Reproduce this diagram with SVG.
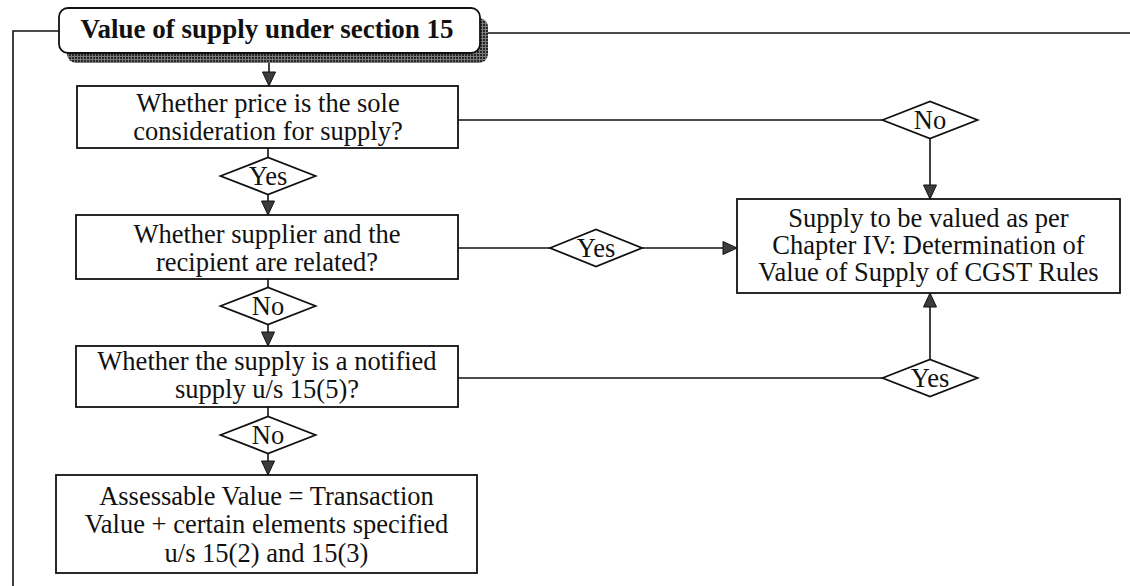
<svg xmlns="http://www.w3.org/2000/svg" width="1130" height="586" viewBox="0 0 1130 586">
  <defs>
    <style>
      .box { fill: #ffffff; stroke: #111111; stroke-width: 1.8; }
      .dia { fill: #ffffff; stroke: #111111; stroke-width: 1.8; }
      .ln { fill: none; stroke: #111111; stroke-width: 1.6; }
      .arr { fill: none; stroke: #111111; stroke-width: 1.6; marker-end: url(#head); }
      .t { font-family: "Liberation Serif", "Times New Roman", serif; font-size: 26.5px; fill: #111111; text-anchor: middle; }
      .tb { font-family: "Liberation Serif", "Times New Roman", serif; font-size: 27px; font-weight: bold; fill: #111111; text-anchor: middle; }
    </style>
    <!-- halftone-like shading for the title shadow -->
    <pattern id="dots" width="3" height="3" patternUnits="userSpaceOnUse">
      <rect width="3" height="3" fill="#7a7a7a"/>
      <rect width="2" height="2" fill="#262626"/>
    </pattern>
    <marker id="head" markerUnits="userSpaceOnUse" markerWidth="18" markerHeight="18" refX="15" refY="7.5" orient="auto">
      <path d="M1,1 L15,7.5 L1,14 Z" fill="#3c3c3c" stroke="#111111" stroke-width="1"/>
    </marker>
  </defs>

  <!-- connectors -->
  <g id="connectors">
    <!-- outer frame lines leaving the title -->
    <polyline class="ln" points="59,31 13,31 13,586"/>
    <line class="ln" x1="488" y1="33" x2="1130" y2="33"/>
    <!-- main vertical flow -->
    <line class="arr" x1="269" y1="63" x2="269" y2="86"/>
    <line class="ln" x1="268" y1="148" x2="268" y2="157.5"/>
    <line class="arr" x1="268" y1="194.5" x2="268" y2="215"/>
    <line class="ln" x1="268" y1="279" x2="268" y2="287.5"/>
    <line class="arr" x1="268" y1="324.5" x2="268" y2="346"/>
    <line class="ln" x1="268" y1="407" x2="268" y2="416.5"/>
    <line class="arr" x1="268" y1="453.5" x2="268" y2="475"/>
    <!-- branches to the rules box -->
    <line class="ln" x1="458" y1="120" x2="882.5" y2="120"/>
    <line class="arr" x1="930" y1="138.5" x2="930" y2="199"/>
    <line class="ln" x1="458" y1="248" x2="550" y2="248"/>
    <line class="arr" x1="642" y1="248" x2="737" y2="248"/>
    <line class="ln" x1="458" y1="378" x2="882.5" y2="378"/>
    <line class="arr" x1="930" y1="359.5" x2="930" y2="293"/>
  </g>

  <!-- title -->
  <g id="title">
    <rect x="67" y="18" width="421" height="45" rx="9" fill="url(#dots)"/>
    <rect x="59" y="8" width="421" height="45" rx="9" class="box"/>
    <text class="tb" x="267" y="38">Value of supply under section 15</text>
  </g>

  <g id="q-price">
    <rect class="box" x="77" y="86" width="381" height="62"/>
    <text class="t" x="268" y="112">Whether price is the sole</text>
    <text class="t" x="268" y="140">consideration for supply?</text>
  </g>

  <g id="d-yes-1">
    <polygon class="dia" points="220.5,176 268,157.5 315.5,176 268,194.5"/>
    <text class="t" x="268" y="185">Yes</text>
  </g>

  <g id="q-related">
    <rect class="box" x="76" y="215" width="382" height="64"/>
    <text class="t" x="267" y="243">Whether supplier and the</text>
    <text class="t" x="267" y="271">recipient are related?</text>
  </g>

  <g id="d-no-1">
    <polygon class="dia" points="220.5,306 268,287.5 315.5,306 268,324.5"/>
    <text class="t" x="268" y="315">No</text>
  </g>

  <g id="q-notified">
    <rect class="box" x="76" y="346" width="382" height="61"/>
    <text class="t" x="267" y="370">Whether the supply is a notified</text>
    <text class="t" x="267" y="398">supply u/s 15(5)?</text>
  </g>

  <g id="d-no-2">
    <polygon class="dia" points="220.5,435 268,416.5 315.5,435 268,453.5"/>
    <text class="t" x="268" y="444">No</text>
  </g>

  <g id="r-assessable">
    <rect class="box" x="56" y="475" width="421" height="98"/>
    <text class="t" x="266.5" y="505">Assessable Value = Transaction</text>
    <text class="t" x="266.5" y="533">Value + certain elements specified</text>
    <text class="t" x="266.5" y="562">u/s 15(2) and 15(3)</text>
  </g>

  <g id="d-no-3">
    <polygon class="dia" points="882.5,120 930,101.5 977.5,120 930,138.5"/>
    <text class="t" x="930" y="129">No</text>
  </g>

  <g id="d-yes-2">
    <polygon class="dia" points="550,248 596,229.5 642,248 596,266.5"/>
    <text class="t" x="596" y="257">Yes</text>
  </g>

  <g id="d-yes-3">
    <polygon class="dia" points="882.5,378 930,359.5 977.5,378 930,396.5"/>
    <text class="t" x="930" y="387">Yes</text>
  </g>

  <g id="r-rules">
    <rect class="box" x="737" y="199" width="383" height="94"/>
    <text class="t" x="928.5" y="227">Supply to be valued as per</text>
    <text class="t" x="928.5" y="254">Chapter IV: Determination of</text>
    <text class="t" x="928.5" y="281">Value of Supply of CGST Rules</text>
  </g>
</svg>
